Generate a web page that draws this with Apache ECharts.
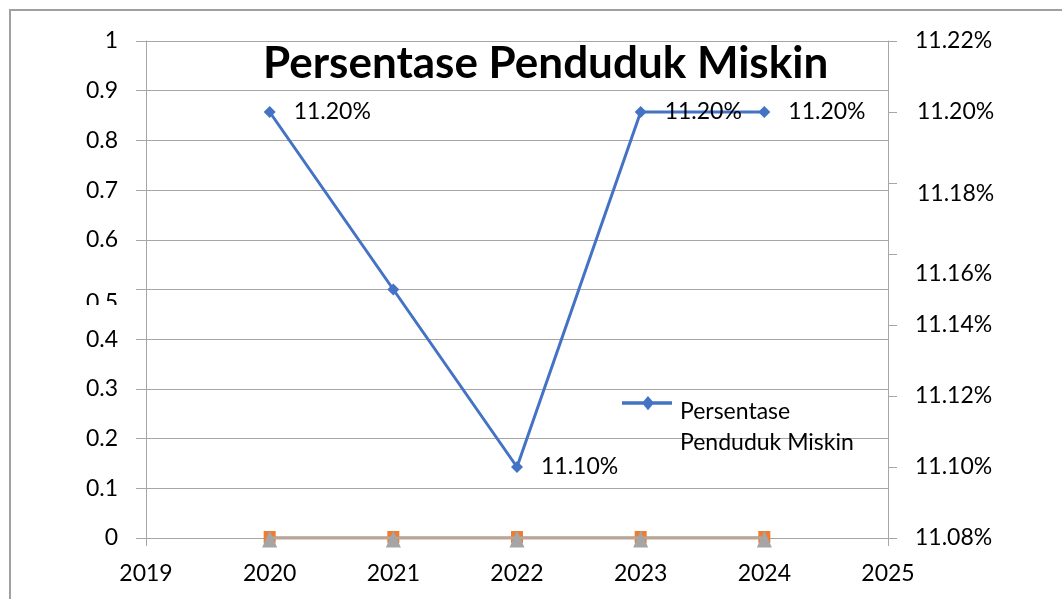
<!DOCTYPE html>
<html>
<head>
<meta charset="utf-8">
<script src="https://cdn.jsdelivr.net/npm/echarts@6/dist/echarts.min.js"></script>
<style>
  html, body { margin: 0; padding: 0; background: #fff; }
  #chart { width: 1062px; height: 599px; }
</style>
</head>
<body>
<div id="chart"></div>
<script>
// data
const years = [2020, 2021, 2022, 2023, 2024];
const persenMiskin = [0.1120, 0.1115, 0.1110, 0.1120, 0.1120];
const seri2 = [0, 0, 0, 0, 0];
const seri3 = [0, 0, 0, 0, 0];
const labelShown = [true, false, true, true, true];

const chart = echarts.init(document.getElementById("chart"));
const font = "Lato, 'Open Sans', sans-serif";
const gridColor = "#a6a6a6";
const fs = 23;

const pct = (v) => (v * 100).toFixed(2) + "%";
const pairs = (arr) => arr.map((v, i) => [years[i], v]);

// legend icon: line + diamond sitting on the first text line
const legendIcon =
  "path://M0,14 L50,14 L50,17 L0,17 Z M26,9.5 L32,15.5 L26,21.5 L20,15.5 Z M53,62 L53.01,62 L53,62 Z";

chart.setOption({
  animation: false,
  textStyle: { fontFamily: font },
  title: {
    text: "Persentase Penduduk Miskin",
    left: 258,
    top: 37,
    textStyle: { fontSize: 44, fontWeight: "bold", color: "#000", fontFamily: font },
  },
  legend: {
    data: ["Persentase Penduduk Miskin"],
    left: 617,
    top: 391,
    itemWidth: 53,
    itemHeight: 62,
    icon: legendIcon,
    symbolKeepAspect: false,
    formatter: () => "Persentase\nPenduduk Miskin",
    textStyle: { fontSize: fs, color: "#000", lineHeight: 31, fontFamily: font },
  },
  grid: { left: 146, right: 174, top: 41, bottom: 61 },
  xAxis: {
    type: "value",
    min: 2019,
    max: 2025,
    interval: 1,
    axisLine: { show: true, onZero: false, lineStyle: { color: gridColor } },
    axisTick: { show: true, length: 8, lineStyle: { color: gridColor } },
    splitLine: { show: false },
    axisLabel: {
      fontSize: fs,
      color: "#000",
      margin: 24,
      formatter: (v) => String(v),
    },
  },
  yAxis: [
    {
      type: "value",
      min: 0,
      max: 1,
      interval: 0.1,
      axisLine: { show: true, lineStyle: { color: gridColor } },
      axisTick: { show: true, length: 10, lineStyle: { color: gridColor } },
      splitLine: { show: true, lineStyle: { color: gridColor, width: 1 } },
      axisLabel: {
        fontSize: fs,
        color: "#000",
        margin: 28,
        formatter: (v) => {
          const s = String(+v.toFixed(1));
          return Math.abs(v - 0.5) < 1e-9 ? "{low|" + s + "}" : s;
        },
        rich: { low: { fontSize: fs, padding: [26, 0, 0, 0] } },
      },
    },
    {
      type: "value",
      min: 0.1108,
      max: 0.1122,
      interval: 0.0002,
      position: "right",
      axisLine: { show: true, lineStyle: { color: gridColor } },
      axisTick: { show: true, length: 9, lineStyle: { color: gridColor } },
      splitLine: { show: false },
      axisLabel: {
        fontSize: fs,
        color: "#000",
        margin: 27,
        formatter: (v) => {
          const s = pct(v);
          if (s === "11.18%") return "{a|" + s + "}";
          if (s === "11.16%") return "{b|" + s + "}";
          if (s === "11.20%") return "{c|" + s + "}";
          return s;
        },
        rich: {
          a: { fontSize: fs, padding: [22, 0, 0, 2] },
          b: { fontSize: fs, padding: [40, 0, 0, 0] },
          c: { fontSize: fs, padding: [0, 0, 0, 2] },
        },
      },
    },
  ],
  series: [
    {
      name: "Seri 2",
      type: "line",
      yAxisIndex: 0,
      data: pairs(seri2),
      symbol: "rect",
      symbolSize: 12,
      symbolOffset: [0, -1],
      itemStyle: { color: "#ed7d31" },
      lineStyle: { color: "#ed7d31", width: 3 },
      z: 3,
    },
    {
      name: "Seri 3",
      type: "line",
      yAxisIndex: 0,
      data: pairs(seri3),
      symbol: "triangle",
      symbolSize: [15, 17],
      symbolOffset: [0, 1],
      itemStyle: { color: "#a5a5a5" },
      lineStyle: { color: "#b0a8a4", width: 3 },
      z: 4,
    },
    {
      name: "Persentase Penduduk Miskin",
      type: "line",
      yAxisIndex: 1,
      data: pairs(persenMiskin),
      symbol: "diamond",
      symbolSize: 12,
      itemStyle: { color: "#4472c4" },
      lineStyle: { color: "#4472c4", width: 3 },
      z: 5,
      label: {
        show: true,
        position: "right",
        distance: 18,
        fontSize: fs,
        color: "#000",
        formatter: (p) => (labelShown[p.dataIndex] ? pct(p.value[1]) : ""),
      },
    },
  ],
  graphic: [
    {
      type: "rect",
      shape: { x: 10, y: 10, width: 1100, height: 700 },
      style: { fill: "none", stroke: "#a0a0a0", lineWidth: 2 },
      silent: true,
    },
    {
      type: "rect",
      shape: { x: 60, y: 305, width: 70, height: 16 },
      style: { fill: "#fff" },
      z: 100,
      silent: true,
    },
  ],
});
</script>
</body>
</html>
